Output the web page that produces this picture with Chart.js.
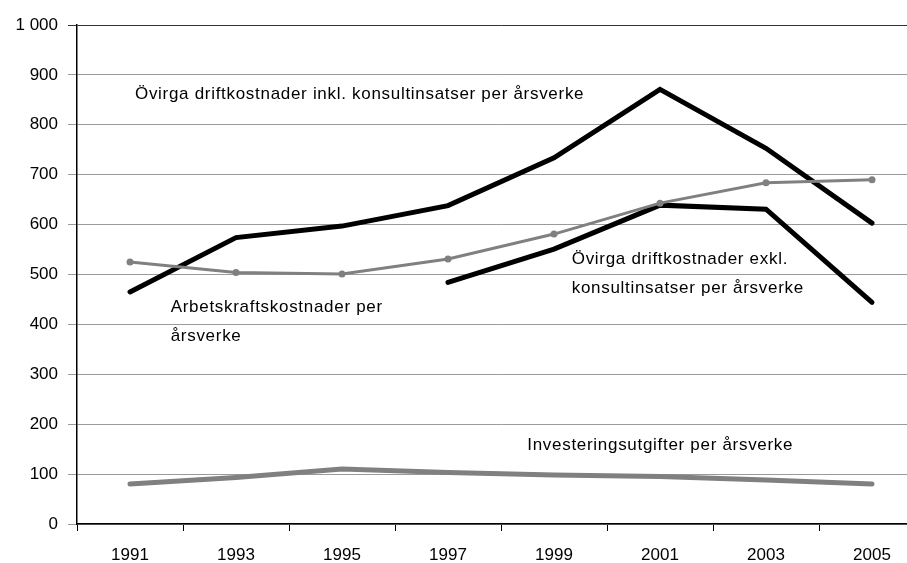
<!DOCTYPE html>
<html>
<head>
<meta charset="utf-8">
<script src="https://cdn.jsdelivr.net/npm/chart.js@4/dist/chart.umd.min.js"></script>
<style>
html,body{margin:0;padding:0;background:#fff;overflow:hidden;width:907px;height:563px;}
#wrap{width:907px;height:563px;overflow:hidden;position:relative;}
#c{position:absolute;left:0;top:0;}
</style>
</head>
<body>
<div id="wrap"><canvas id="c" width="940" height="563" style="width:940px;height:563px"></canvas></div>
<script>
const years = ['1991','1993','1995','1997','1999','2001','2003','2005'];
const arbetskraft = [525, 504, 501, 531, 581, 643, 684, 690];
const ovrigaInkl = [465, 574, 597, 638, 734, 871, 753, 603];
const ovrigaExkl = [null, null, null, 484, 551, 639, 631, 444];
const investering = [80, 93, 110, 103, 98, 95, 88, 80];
const yTicks = [0,100,200,300,400,500,600,700,800,900,1000];

const labels = [
  {lines:['Övirga driftkostnader inkl. konsultinsatser per årsverke'], xi:0.047, v:862},
  {lines:['Arbetskraftskostnader per','årsverke'], xi:0.384, v:434},
  {lines:['Övirga driftkostnader exkl.','konsultinsatser per årsverke'], xi:4.167, v:531},
  {lines:['Investeringsutgifter per årsverke'], xi:3.748, v:157}
];

const FONT = '"Liberation Sans", Arial, sans-serif';

const annotPlugin = {
  id:'annot',
  afterDatasetsDraw(chart){
    const ctx = chart.ctx, xs = chart.scales.x, ys = chart.scales.y;
    ctx.save();
    ctx.fillStyle = '#000';
    ctx.font = '17px ' + FONT;
    ctx.textAlign = 'left';
    ctx.textBaseline = 'middle';
    try { ctx.letterSpacing = '0.7px'; } catch(e) {}
    const step = xs.getPixelForValue(1) - xs.getPixelForValue(0);
    const lineH = ys.getPixelForValue(0) - ys.getPixelForValue(58);
    labels.forEach(l => {
      const x = xs.getPixelForValue(0) + l.xi*step;
      const y = ys.getPixelForValue(l.v);
      l.lines.forEach((t,i) => ctx.fillText(t, x, y + i*lineH));
    });
    ctx.restore();
  }
};

new Chart(document.getElementById('c'), {
  type:'line',
  data:{
    labels: years,
    datasets:[
      {label:'Arbetskraftskostnader per årsverke', data:arbetskraft, borderColor:'#808080', backgroundColor:'#808080', borderWidth:3, pointRadius:3.5, pointBackgroundColor:'#808080', pointBorderWidth:0, tension:0},
      {label:'Övirga driftkostnader inkl. konsultinsatser per årsverke', data:ovrigaInkl, borderColor:'#000', borderWidth:5, pointRadius:0, tension:0, borderCapStyle:'round'},
      {label:'Övirga driftkostnader exkl. konsultinsatser per årsverke', data:ovrigaExkl, borderColor:'#000', borderWidth:5, pointRadius:0, tension:0, spanGaps:false, borderCapStyle:'round'},
      {label:'Investeringsutgifter per årsverke', data:investering, borderColor:'#808080', borderWidth:5, pointRadius:0, tension:0, borderCapStyle:'round'}
    ]
  },
  options:{
    responsive:false,
    animation:false,
    devicePixelRatio:1,
    layout:{padding:{top:25,right:15,left:0,bottom:0}},
    plugins:{legend:{display:false}, tooltip:{enabled:false}},
    scales:{
      x:{
        offset:true,
        grid:{offset:true, drawOnChartArea:false, tickLength:7, tickColor:'#000', tickWidth:1},
        border:{color:'#000', width:1.5},
        ticks:{color:'#000', font:{family:FONT, size:17}, padding:14, maxRotation:0},
        afterFit(s){ s.height = 39; }
      },
      y:{
        min:0, max:1000,
        afterBuildTicks(s){ s.ticks = yTicks.map(v=>({value:v})); },
        grid:{color:(c)=> c.tick && c.tick.value===1000 ? '#333' : '#9a9a9a', lineWidth:1, tickLength:9},
        border:{color:'#000', width:1.5},
        ticks:{color:'#000', font:{family:FONT, size:17}, padding:10,
          callback:(v)=> v>=1000 ? String(v).replace(/\B(?=(\d{3})+(?!\d))/g,' ') : String(v)},
        afterFit(s){ s.width = 77; }
      }
    }
  },
  plugins:[annotPlugin]
});
</script>
</body>
</html>
